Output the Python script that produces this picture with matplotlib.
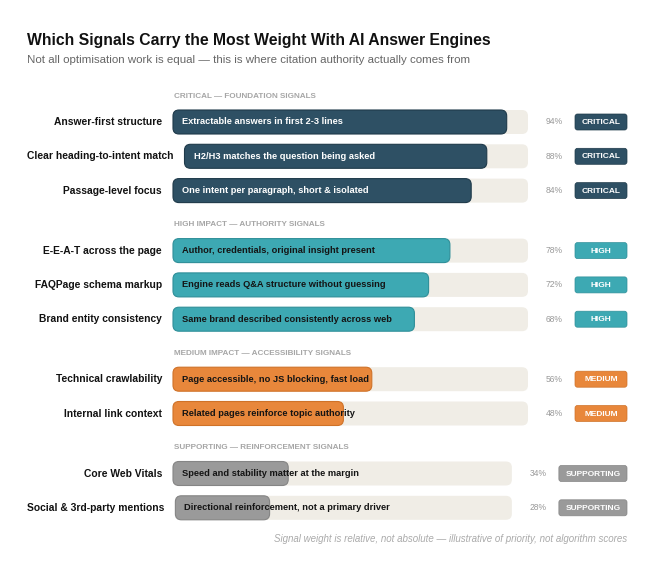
import matplotlib
matplotlib.use("Agg")
import matplotlib.pyplot as plt
from matplotlib.patches import FancyBboxPatch

title = "Which Signals Carry the Most Weight With AI Answer Engines"
subtitle = "Not all optimisation work is equal \u2014 this is where citation authority actually comes from"
footnote = "Signal weight is relative, not absolute \u2014 illustrative of priority, not algorithm scores"

sections = ["CRITICAL \u2014 FOUNDATION SIGNALS",
            "HIGH IMPACT \u2014 AUTHORITY SIGNALS",
            "MEDIUM IMPACT \u2014 ACCESSIBILITY SIGNALS",
            "SUPPORTING \u2014 REINFORCEMENT SIGNALS"]
section_sizes = [3, 3, 2, 2]

labels = ["Answer-first structure", "Clear heading-to-intent match", "Passage-level focus",
          "E-E-A-T across the page", "FAQPage schema markup", "Brand entity consistency",
          "Technical crawlability", "Internal link context",
          "Core Web Vitals", "Social & 3rd-party mentions"]
descs = ["Extractable answers in first 2-3 lines", "H2/H3 matches the question being asked",
         "One intent per paragraph, short & isolated",
         "Author, credentials, original insight present", "Engine reads Q&A structure without guessing",
         "Same brand described consistently across web",
         "Page accessible, no JS blocking, fast load", "Related pages reinforce topic authority",
         "Speed and stability matter at the margin", "Directional reinforcement, not a primary driver"]
pcts = [94, 88, 84, 78, 72, 68, 56, 48, 34, 28]
tiers = ["CRITICAL"] * 3 + ["HIGH"] * 3 + ["MEDIUM"] * 2 + ["SUPPORTING"] * 2

colors = {"CRITICAL": "#2e5064", "HIGH": "#3da9b3", "MEDIUM": "#e8873b", "SUPPORTING": "#9a9a9a"}
edges = {"CRITICAL": "#1f3a4a", "HIGH": "#2f8f99", "MEDIUM": "#cf7228", "SUPPORTING": "#858585"}
text_cols = {"CRITICAL": "white", "HIGH": "#141414", "MEDIUM": "#141414", "SUPPORTING": "#141414"}
track_col = "#f0ede6"
font = "Liberation Sans"

fig = plt.figure(figsize=(6.56, 5.81), dpi=100)
ax = fig.add_axes([0, 0, 1, 1])
ax.set_xlim(0, 656)
ax.set_ylim(581, 0)
ax.axis("off")
rend = fig.canvas.get_renderer()


def tw(t):
    return t.get_window_extent(rend).width


def fit(s, target, **kw):
    # font size that makes s about target px wide
    t = ax.text(0, 0, s, fontsize=10, family=font, **kw)
    w = tw(t)
    t.remove()
    return 10 * target / w


def rbox(x, y, w, h, fc, ec="none", rad=5, lw=0.8):
    ax.add_patch(FancyBboxPatch((x + rad, y + rad), w - 2 * rad, h - 2 * rad,
                                boxstyle="round,pad=%f" % rad, fc=fc, ec=ec, lw=lw))


fs_title = fit(title, 465, fontweight="bold")
fs_sub = fit(subtitle, 442)
fs_lab = fit(labels[0], 108, fontweight="bold")
fs_desc = fit(descs[0], 160, fontweight="bold")
fs_head = fit(sections[0], 142, fontweight="bold")
fs_badge = fit("CRITICAL", 39, fontweight="bold")
fs_pct = fit("94%", 17)
fs_foot = fit(footnote, 354, style="italic")

ax.text(27, 40, title, fontsize=fs_title, fontweight="bold", color="#111111",
        family=font, va="center", ha="left")
ax.text(27, 60, subtitle, fontsize=fs_sub, color="#666666", family=font, va="center", ha="left")

left, label_right, gap, right = 27, 162, 11, 627
bar_h = 24
y = 96
i = 0
for sec, n in zip(sections, section_sizes):
    ax.text(174, y, sec, fontsize=fs_head, fontweight="bold", color="#a6a6a6", family=font,
            va="center", ha="left")
    y += 26
    for k in range(n):
        lab = ax.text(0, y, labels[i], fontsize=fs_lab, fontweight="bold", color="#111111",
                      family=font, va="center", ha="right")
        lab_r = max(label_right, left + tw(lab))
        lab.set_x(lab_r)
        x0 = lab_r + gap

        # badge
        bt = ax.text(0, y + 0.5, tiers[i], fontsize=fs_badge, fontweight="bold", color="white",
                     family=font, va="center", ha="center")
        bw = max(52, tw(bt) + 13)
        bx = right - bw
        bt.set_x(bx + bw / 2)
        bt.set_zorder(3)
        rbox(bx, y - 8, bw, 16, colors[tiers[i]], ec=edges[tiers[i]], rad=2.5, lw=0.5)

        ax.text(bx - 12, y, "%d%%" % pcts[i], fontsize=fs_pct, color="#999999", family=font,
                va="center", ha="right")

        x1 = bx - 47
        tr_w = x1 - x0
        rbox(x0, y - bar_h / 2, tr_w, bar_h, track_col, rad=6)
        rbox(x0, y - bar_h / 2, tr_w * pcts[i] / 100, bar_h, colors[tiers[i]],
             ec=edges[tiers[i]], rad=6)
        ax.text(x0 + 9, y, descs[i], fontsize=fs_desc, fontweight="bold", color=text_cols[tiers[i]],
                family=font, va="center", ha="left", zorder=3)
        i += 1
        if k < n - 1:
            y += 34.3
    y += 34

ax.text(627, 539, footnote, fontsize=fs_foot, style="italic", color="#aaaaaa", family=font,
        va="center", ha="right")

fig.savefig("out.png", dpi=100, facecolor="white")
